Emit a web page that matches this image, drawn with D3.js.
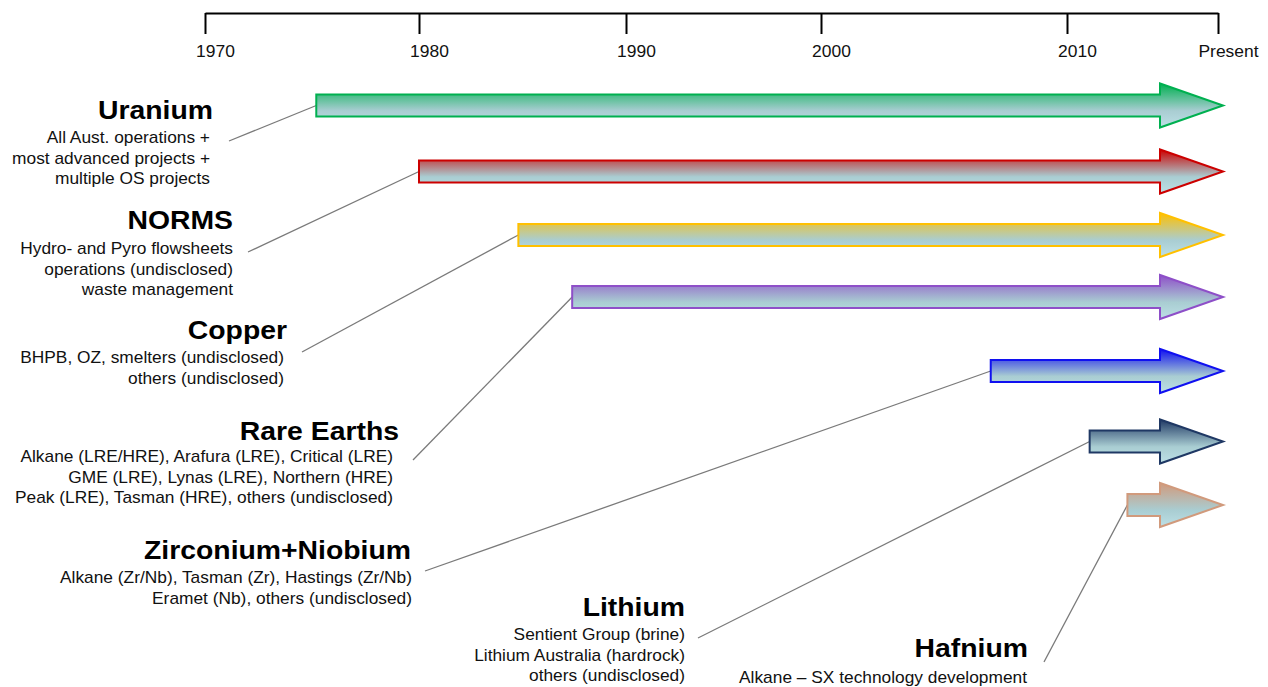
<!DOCTYPE html>
<html>
<head>
<meta charset="utf-8">
<script src="https://cdn.jsdelivr.net/npm/d3@7"></script>
<style>
  body { margin:0; background:#fff; }
  svg { display:block; font-family:"Liberation Sans", Arial, sans-serif; }
</style>
</head>
<body>
<svg id="chart" width="1268" height="687"></svg>
<script>
try{

/*========================================
	Data
========================================*/
var tickYears = [1970, 1980, 1990, 2000, 2010, 2016];
var tickLabels = ["1970", "1980", "1990", "2000", "2010", "Present"];

var materials = ["Uranium", "NORMS", "Copper", "Rare Earths", "Zirconium+Niobium", "Lithium", "Hafnium"];
var startYears = [1975.2, 1980, 1984.8, 1987.4, 2006.9, 2010.9, 2012.4];
var arrowColors = ["#00b050", "#cc0000", "#ffc000", "#8e4fc8", "#1010f0", "#1f3864", "#d19a7c"];
var details = [
	["All Aust. operations +", "most advanced projects +", "multiple OS projects"],
	["Hydro- and Pyro flowsheets", "operations (undisclosed)", "waste management"],
	["BHPB, OZ, smelters (undisclosed)", "others (undisclosed)"],
	["Alkane (LRE/HRE), Arafura (LRE), Critical (LRE)", "GME (LRE), Lynas (LRE), Northern (HRE)", "Peak (LRE), Tasman (HRE), others (undisclosed)"],
	["Alkane (Zr/Nb), Tasman (Zr), Hastings (Zr/Nb)", "Eramet (Nb), others (undisclosed)"],
	["Sentient Group (brine)", "Lithium Australia (hardrock)", "others (undisclosed)"],
	["Alkane \u2013 SX technology development"]
];

/*========================================
	Layout (label blocks, leader starts)
========================================*/
// [title right x, title baseline, detail right x, first detail baseline]
var labelPos = [
	[213, 119, 210, 143],
	[233, 229, 233, 254],
	[287, 339, 284, 363],
	[399, 440, 393, 462],
	[411, 559, 412, 583],
	[685, 616, 685, 640],
	[1028, 657, 1027, 683]
];
var leaderStart = [[229,141],[248,252],[302,352],[413,460],[425,571],[698,638],[1044,662]];

var stretch = 1.07;   // source picture is a bit wider than tall
var lineGap = 20.6;

var svg = d3.select("#chart");
var defs = svg.append("defs");

/*========================================
	Scales
========================================*/
var x = d3.scaleLinear().domain(tickYears).range([205, 419, 626, 821, 1067, 1218]);
var y = d3.scaleOrdinal().domain(materials).range([105.5, 171.5, 235, 297, 371, 441.5, 505]);

var bodyHalf = 11, headHalf = 22, headLen = 63;
var tipX = x(2016) + 5;

/*========================================
	Time axis
========================================*/
var axis = d3.axisBottom(x)
	.tickValues(tickYears)
	.tickFormat(function(d, i){ return tickLabels[i]; })
	.tickSizeInner(21)
	.tickSizeOuter(0)
	.tickPadding(11);

var axisG = svg.append("g").attr("transform", "translate(0,13)").call(axis);
axisG.select(".domain").attr("stroke", "#000").attr("stroke-width", 2);
axisG.selectAll(".tick line").attr("stroke", "#000").attr("stroke-width", 2);
axisG.selectAll(".tick text")
	.attr("x", 10 / stretch)   // labels sit a little right of their tick
	.attr("fill", "#111")
	.style("font-size", "16.3px")
	.style("font-family", "Liberation Sans, Arial, sans-serif")
	.attr("transform", "scale(" + stretch + ",1)");

/*========================================
	Leader lines
========================================*/
svg.append("g").selectAll("line")
	.data(materials)
	.join("line")
	.attr("x1", function(d, i){ return leaderStart[i][0]; })
	.attr("y1", function(d, i){ return leaderStart[i][1]; })
	.attr("x2", function(d, i){ return x(startYears[i]); })
	.attr("y2", function(d){ return y(d); })
	.attr("stroke", "#7a7a7a")
	.attr("stroke-width", 1.3);

/*========================================
	Arrows
========================================*/
materials.forEach(function(m, i){
	var grad = defs.append("linearGradient")
		.attr("id", "grad" + i)
		.attr("x1", 0).attr("y1", 0).attr("x2", 0).attr("y2", 1);
	grad.append("stop").attr("offset", "0%").attr("stop-color", arrowColors[i]);
	grad.append("stop").attr("offset", "62%").attr("stop-color", "#a9cdd2");
	grad.append("stop").attr("offset", "100%").attr("stop-color", "#bde0e6");
});

var arrowPath = function(d, i){
	var x0 = x(startYears[i]), cy = y(d), xh = tipX - headLen;
	return "M" + x0 + "," + (cy - bodyHalf) +
		"L" + xh + "," + (cy - bodyHalf) +
		"L" + xh + "," + (cy - headHalf) +
		"L" + tipX + "," + cy +
		"L" + xh + "," + (cy + headHalf) +
		"L" + xh + "," + (cy + bodyHalf) +
		"L" + x0 + "," + (cy + bodyHalf) + "Z";
};

svg.append("g").selectAll("path")
	.data(materials)
	.join("path")
	.attr("d", arrowPath)
	.attr("fill", function(d, i){ return "url(#grad" + i + ")"; })
	.attr("stroke", function(d, i){ return arrowColors[i]; })
	.attr("stroke-width", 2)
	.attr("stroke-linejoin", "miter");

/*========================================
	Labels
========================================*/
materials.forEach(function(m, i){
	var p = labelPos[i];

	svg.append("g")
		.attr("transform", "translate(" + p[0] + "," + p[1] + ") scale(" + stretch + ",1)")
		.append("text")
		.attr("text-anchor", "end")
		.attr("font-weight", "bold")
		.attr("font-size", "26.5px")
		.attr("fill", "#000")
		.text(m);

	var sub = svg.append("g")
		.attr("transform", "translate(" + p[2] + "," + p[3] + ") scale(" + stretch + ",1)");
	sub.selectAll("text")
		.data(details[i])
		.join("text")
		.attr("text-anchor", "end")
		.attr("y", function(d, j){ return j * lineGap; })
		.attr("font-size", "16.2px")
		.attr("fill", "#111")
		.text(function(d){ return d; });
});

} catch (e) {
	console.log(e);
}
</script>
</body>
</html>
